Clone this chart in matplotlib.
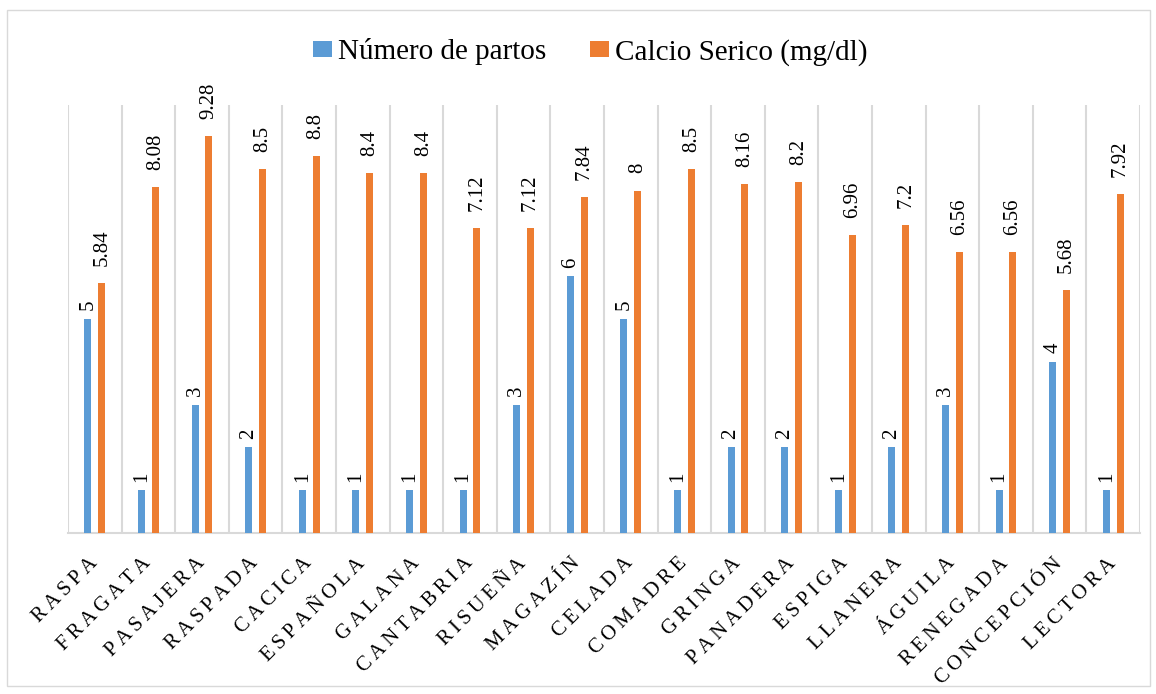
import matplotlib.pyplot as plt
import numpy as np

plt.rcParams['font.family'] = ['Liberation Serif', 'DejaVu Serif']

vacas = ['RASPA', 'FRAGATA', 'PASAJERA', 'RASPADA', 'CACICA', 'ESPAÑOLA', 'GALANA',
         'CANTABRIA', 'RISUEÑA', 'MAGAZÍN', 'CELADA', 'COMADRE', 'GRINGA', 'PANADERA',
         'ESPIGA', 'LLANERA', 'ÁGUILA', 'RENEGADA', 'CONCEPCIÓN', 'LECTORA']
partos = [5, 1, 3, 2, 1, 1, 1, 1, 3, 6, 5, 1, 2, 2, 1, 2, 3, 1, 4, 1]
calcio = [5.84, 8.08, 9.28, 8.5, 8.8, 8.4, 8.4, 7.12, 7.12, 7.84, 8, 8.5, 8.16, 8.2,
          6.96, 7.2, 6.56, 6.56, 5.68, 7.92]

azul = '#5B9BD5'
naranja = '#ED7D31'


def spaced(s):
    # letter spacing like the original
    return '\u2009'.join(s)


fig = plt.figure(figsize=(11.56, 6.94), dpi=100)
ax = fig.add_axes([68 / 1156, 1 - 533 / 694, (1140 - 68) / 1156, (533 - 105) / 694])

x = np.arange(len(vacas))
w = 0.13
b1 = ax.bar(x - w, partos, w, color=azul, label='Número de partos', zorder=3)
b2 = ax.bar(x + w, calcio, w, color=naranja, label='Calcio Serico (mg/dl)', zorder=3)

for rect, v in zip(b1, partos):
    ax.text(rect.get_x() + rect.get_width() / 2, v + 0.2, f'{v:g}', rotation=90,
            ha='center', va='bottom', fontsize=15)
for rect, v in zip(b2, calcio):
    ax.text(rect.get_x() + rect.get_width() / 2, v + 0.4, f'{v:g}', rotation=90,
            ha='center', va='bottom', fontsize=15)

ax.set_xlim(-0.5, len(vacas) - 0.5)
ax.set_ylim(0, 10)
ax.set_yticks([])
ax.set_xticks(x)
ax.set_xticklabels([spaced(v) for v in vacas], rotation=45, ha='right', va='center',
                   rotation_mode='anchor', fontsize=15)
ax.tick_params(axis='x', length=0, pad=20)

for b in np.arange(-0.5, len(vacas), 1):
    ax.axvline(b, color='#D9D9D9', lw=1.5, zorder=1)

for s in ['top', 'right', 'left']:
    ax.spines[s].set_visible(False)
ax.spines['bottom'].set_color('#D9D9D9')
ax.spines['bottom'].set_linewidth(1.5)

fig.legend(loc='center', bbox_to_anchor=(0.5 + 12 / 1156, 1 - 52 / 694), ncol=2,
           frameon=False, fontsize=21, handlelength=0.65, handleheight=0.45,
           handletextpad=0.2, columnspacing=1.5)

border = plt.Rectangle((7 / 1156, 1 - 686 / 694), (1150 - 7) / 1156, (686 - 10) / 694,
                       transform=fig.transFigure, fill=False, edgecolor='#D9D9D9', lw=1)
fig.patches.append(border)

fig.savefig('out.png', dpi=100)
